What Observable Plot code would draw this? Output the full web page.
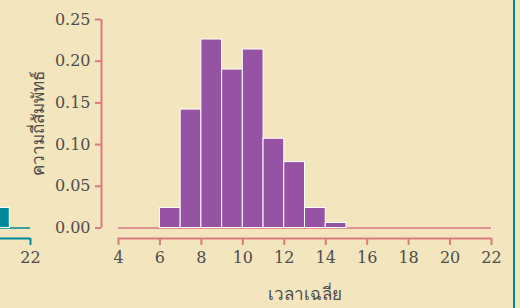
<!DOCTYPE html>
<html><head><meta charset="utf-8">
<script src="https://cdn.jsdelivr.net/npm/d3@7"></script>
<script src="https://cdn.jsdelivr.net/npm/@observablehq/plot@0.6"></script>
<style>
html,body{margin:0;padding:0;background:#f3e5bd;overflow:hidden;}
#wrap{position:relative;width:520px;height:308px;overflow:hidden;background:#f3e5bd;}
#wrap svg{position:absolute;top:0;}
#border{position:absolute;left:513px;top:0;width:2px;height:308px;background:#00899a;}
</style></head><body><div id="wrap"><div id="border"></div></div>
<script>
// main histogram (bin starts, width 1)
const binStart = [6, 7, 8, 9, 10, 11, 12, 13, 14];
const relFreq = [0.024, 0.142, 0.226, 0.190, 0.214, 0.107, 0.079, 0.024, 0.006];
// neighbouring (partly visible) panel on the left
const leftBinStart = [20];
const leftRelFreq = [0.024];
const leftTicks = [22];
const binWidth = 1;
const xDomain = [4, 22];
const yDomain = [0, 0.25];
const xTicks = [4, 6, 8, 10, 12, 14, 16, 18, 20, 22];
const yTicks = [0, 0.05, 0.10, 0.15, 0.20, 0.25];
const xLabel = "เวลาเฉลี่ย";
const yLabel = "ความถี่สัมพัทธ์";

const textColor = "#4d4d4d";
const pink = "#da7a84";
const purple = "#9652a3";
const teal = "#00899a";

function makePlot(starts, freqs, color, axisColor, ticks, withLabels) {
  const rows = starts.map((s, i) => ({x1: s, x2: s + binWidth, y: freqs[i]}));
  const marks = [
    Plot.ruleY([yDomain[0]], {x1: xDomain[0], x2: xDomain[1], stroke: axisColor, strokeWidth: 1.5}),
    Plot.rectY(rows, {x1: "x1", x2: "x2", y: "y", fill: color, stroke: "white", strokeWidth: 1}),
    Plot.ruleY([yDomain[0]], {x1: xDomain[0], x2: xDomain[1], dy: 10.5, stroke: axisColor, strokeWidth: 2}),
    Plot.axisX({ticks, tickFormat: d => d, tickSize: 7, tickPadding: 6, dy: 10.5,
      stroke: axisColor, strokeWidth: 2, fill: textColor, label: null, fontSize: 16})
  ];
  if (withLabels) {
    marks.push(
      Plot.text([xLabel], {frameAnchor: "bottom", dy: 72, fill: textColor, fontSize: 17,
        fontFamily: "sans-serif"}),
      Plot.ruleX([xDomain[0]], {y1: yDomain[0], y2: yDomain[1], dx: -17, stroke: axisColor, strokeWidth: 2}),
      Plot.axisY({ticks: yTicks, tickFormat: d3.format(".2f"), tickSize: 6, tickPadding: 5, dx: -17,
        stroke: axisColor, strokeWidth: 2, fill: textColor, label: null, fontSize: 16}),
      Plot.text([yLabel], {frameAnchor: "left", textAnchor: "middle", dx: -80, rotate: -90,
        fill: textColor, fontSize: 17, fontFamily: "sans-serif"})
    );
  }
  return Plot.plot({
    width: 520, height: 308,
    marginLeft: 118, marginRight: 29, marginTop: 19, marginBottom: 80.5,
    x: {domain: xDomain, axis: null},
    y: {domain: yDomain, axis: null},
    style: {background: "transparent", fontFamily: "DejaVu Serif", fontSize: "16px", color: textColor, overflow: "visible"},
    marks
  });
}

const wrap = document.getElementById("wrap");
const left = makePlot(leftBinStart, leftRelFreq, teal, teal, leftTicks, false);
left.style.left = "-461px";
wrap.appendChild(left);
const main = makePlot(binStart, relFreq, purple, pink, xTicks, true);
main.style.left = "0px";
wrap.appendChild(main);
</script></body></html>
